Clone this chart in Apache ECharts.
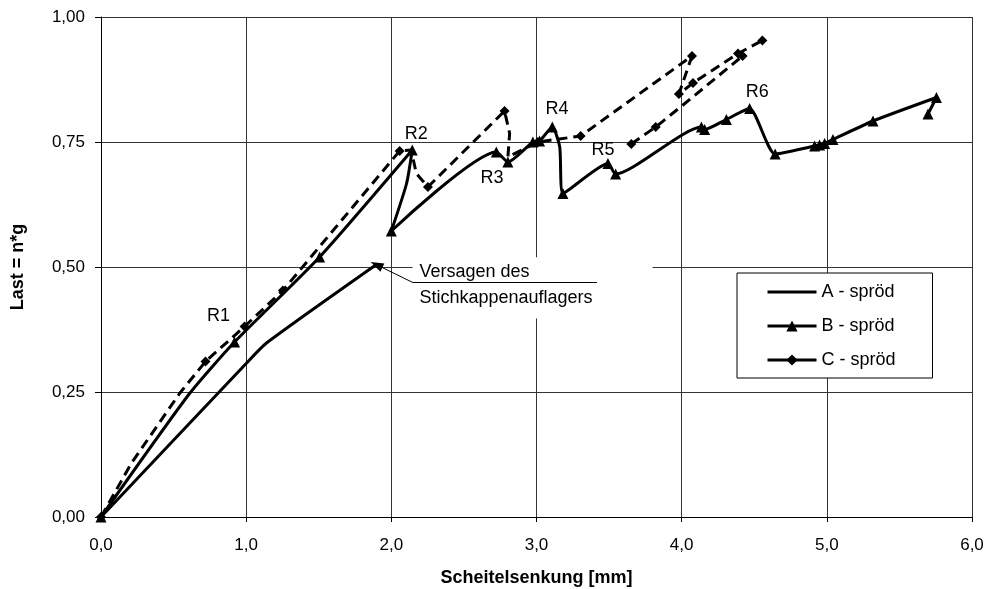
<!DOCTYPE html>
<html><head><meta charset="utf-8">
<script src="https://cdn.jsdelivr.net/npm/echarts@6/dist/echarts.min.js"></script>
<style>html,body{margin:0;padding:0;background:#fff}#c{width:987px;height:589px}</style>
</head><body><div id="c"></div>
<script>
const seriesNames = ['A - spröd', 'B - spröd', 'C - spröd'];
const xTicks = [0, 1, 2, 3, 4, 5, 6];
const yTicks = [0, 0.25, 0.5, 0.75, 1.0];
// [x (mm), load]
const dataA = [[0, 0], [1.0, 0.307], [1.14, 0.348], [1.895, 0.5045]];
// [x (mm), load, marker 1/0]
const dataB = [[0,0,1],[0.61,0.247,0],[0.92,0.35,1],[1.506,0.52,1],[2.144,0.734,1],[2.105,0.667,0],[2.0,0.572,1],
  [2.723,0.73,1],[2.803,0.71,1],[2.975,0.75,1],[3.021,0.752,1],[3.109,0.78,1],[3.16,0.74,0],[3.182,0.647,1],
  [3.492,0.707,1],[3.545,0.686,1],[4.136,0.78,1],[4.158,0.775,1],[4.308,0.795,1],[4.468,0.817,1],
  [4.644,0.726,1],[4.916,0.742,1],[4.95,0.744,1],[4.985,0.747,1],[5.042,0.755,1],[5.318,0.792,1],
  [5.755,0.839,1],[5.697,0.806,1]];
const dataC1 = [[0,0,1],[0.208,0.107,0],[0.541,0.247,0],[0.72,0.311,1],[0.989,0.381,1],[1.253,0.453,1],
  [2.057,0.732,1],[2.137,0.734,0],[2.172,0.687,0],[2.252,0.66,1],[2.78,0.812,1],[2.815,0.767,0],
  [2.803,0.72,0],[3.01,0.75,1],[3.304,0.762,1],[4.071,0.922,1],[3.981,0.846,1],[4.078,0.868,1],
  [4.388,0.927,1],[4.556,0.953,1]];
const dataC2 = [[3.653,0.746,1],[3.821,0.78,1],[4.009,0.824,0],[4.42,0.922,1]];
// crack labels [text, x, y]
const rLabels = [['R1',0.81,0.401],['R2',2.172,0.766],['R3',2.694,0.677],['R4',3.142,0.816],['R5',3.458,0.734],['R6',4.52,0.849]];
// annotation text [text, x, y]
const noteTexts = [['Versagen des',2.194,0.4895],['Stichkappenauflagers',2.194,0.438]];
const noteUnderline = [[2.148,0.469],[3.416,0.469]];
const noteArrow = [[2.148,0.469],[1.898,0.5045]];
const noteBox = [[2.146,0.5195],[3.8,0.397]];

const FONT = '"Liberation Sans", Arial, sans-serif';
function pts(d) {
  return d.map(p => p[2] ? {value: [p[0], p[1]]} : {value: [p[0], p[1]], symbol: 'none'});
}
const chart = echarts.init(document.getElementById('c'), null, {renderer: 'canvas'});
const lineBase = {type: 'line', color: '#000', animation: false, silent: true, emphasis: {disabled: true}};
chart.setOption({
  backgroundColor: '#fff',
  animation: false,
  textStyle: {fontFamily: FONT},
  grid: {left: 101, right: 15, top: 17, bottom: 72, containLabel: false, outerBoundsMode: 'none'},
  legend: {
    data: [
      {name: seriesNames[0], itemStyle: {opacity: 0}},
      {name: seriesNames[1]},
      {name: seriesNames[2], lineStyle: {type: 'solid'}}
    ],
    orient: 'vertical', left: 737, top: 273,
    itemWidth: 49, itemHeight: 14, itemGap: 16,
    padding: [10, 37, 9, 29], borderColor: '#000', borderWidth: 1, backgroundColor: '#fff',
    lineStyle: {width: 3},
    textStyle: {fontSize: 18, color: '#000', fontFamily: FONT}, selectedMode: false
  },
  xAxis: {
    type: 'value', min: xTicks[0], max: xTicks[xTicks.length - 1], interval: 1,
    name: 'Scheitelsenkung [mm]', nameLocation: 'middle', nameGap: 52,
    nameTextStyle: {fontSize: 18, fontWeight: 'bold', color: '#000', fontFamily: FONT},
    axisLine: {lineStyle: {color: '#000', width: 1}},
    axisTick: {show: true, length: 5, lineStyle: {color: '#000'}},
    axisLabel: {fontSize: 17, color: '#000', margin: 20, formatter: v => v.toFixed(1).replace('.', ',')},
    splitLine: {show: true, lineStyle: {color: '#333', width: 1}}
  },
  yAxis: {
    type: 'value', min: yTicks[0], max: yTicks[yTicks.length - 1], interval: 0.25,
    name: 'Last = n*g', nameLocation: 'middle', nameGap: 74, nameRotate: 90,
    nameTextStyle: {fontSize: 18, fontWeight: 'bold', color: '#000', fontFamily: FONT},
    axisLine: {show: true, lineStyle: {color: '#000', width: 1}},
    axisTick: {show: true, length: 6, lineStyle: {color: '#000'}},
    axisLabel: {fontSize: 17, color: '#000', margin: 16, formatter: v => v.toFixed(2).replace('.', ',')},
    splitLine: {show: true, lineStyle: {color: '#333', width: 1}}
  },
  series: [
    Object.assign({}, lineBase, {
      name: seriesNames[0], data: dataA, symbol: 'none', smooth: 0.2,
      lineStyle: {color: '#000', width: 3},
      markArea: {silent: true, itemStyle: {color: '#fff'},
        data: [[{coord: noteBox[0]}, {coord: noteBox[1]}]]},
      markLine: {silent: true, animation: false, label: {show: false}, emphasis: {disabled: true},
        lineStyle: {color: '#000', width: 1, type: 'solid'},
        data: [
          [{coord: noteUnderline[0], symbol: 'none'}, {coord: noteUnderline[1], symbol: 'none'}],
          [{coord: noteArrow[0], symbol: 'none'}, {coord: noteArrow[1], symbol: 'triangle', symbolSize: [9, 13]}]
        ]}
    }),
    Object.assign({}, lineBase, {
      name: seriesNames[1], data: pts(dataB), symbol: 'triangle', symbolSize: 11, smooth: 0.2,
      lineStyle: {color: '#000', width: 3}, itemStyle: {color: '#000'}
    }),
    Object.assign({}, lineBase, {
      name: seriesNames[2], data: pts(dataC1), symbol: 'diamond', symbolSize: 10, smooth: false,
      lineStyle: {color: '#000', width: 3, type: [10, 6]}, itemStyle: {color: '#000'}
    }),
    Object.assign({}, lineBase, {
      name: seriesNames[2], data: pts(dataC2), symbol: 'diamond', symbolSize: 10, smooth: false,
      lineStyle: {color: '#000', width: 3, type: [10, 6]}, itemStyle: {color: '#000'}
    })
  ]
});
const toPx = p => chart.convertToPixel({gridIndex: 0}, p);
const g = [];
rLabels.forEach(r => {
  const p = toPx([r[1], r[2]]);
  g.push({type: 'text', x: p[0], y: p[1], silent: true, z: 100,
    style: {text: r[0], font: '18px ' + FONT, fill: '#000', align: 'center', verticalAlign: 'middle',
      textAlign: 'center', textVerticalAlign: 'middle'}});
});
noteTexts.forEach(r => {
  const p = toPx([r[1], r[2]]);
  g.push({type: 'text', x: p[0], y: p[1], silent: true, z: 100,
    style: {text: r[0], font: '18px ' + FONT, fill: '#000', align: 'left', verticalAlign: 'middle',
      textAlign: 'left', textVerticalAlign: 'middle'}});
});
chart.setOption({graphic: g});
</script>
</body></html>
